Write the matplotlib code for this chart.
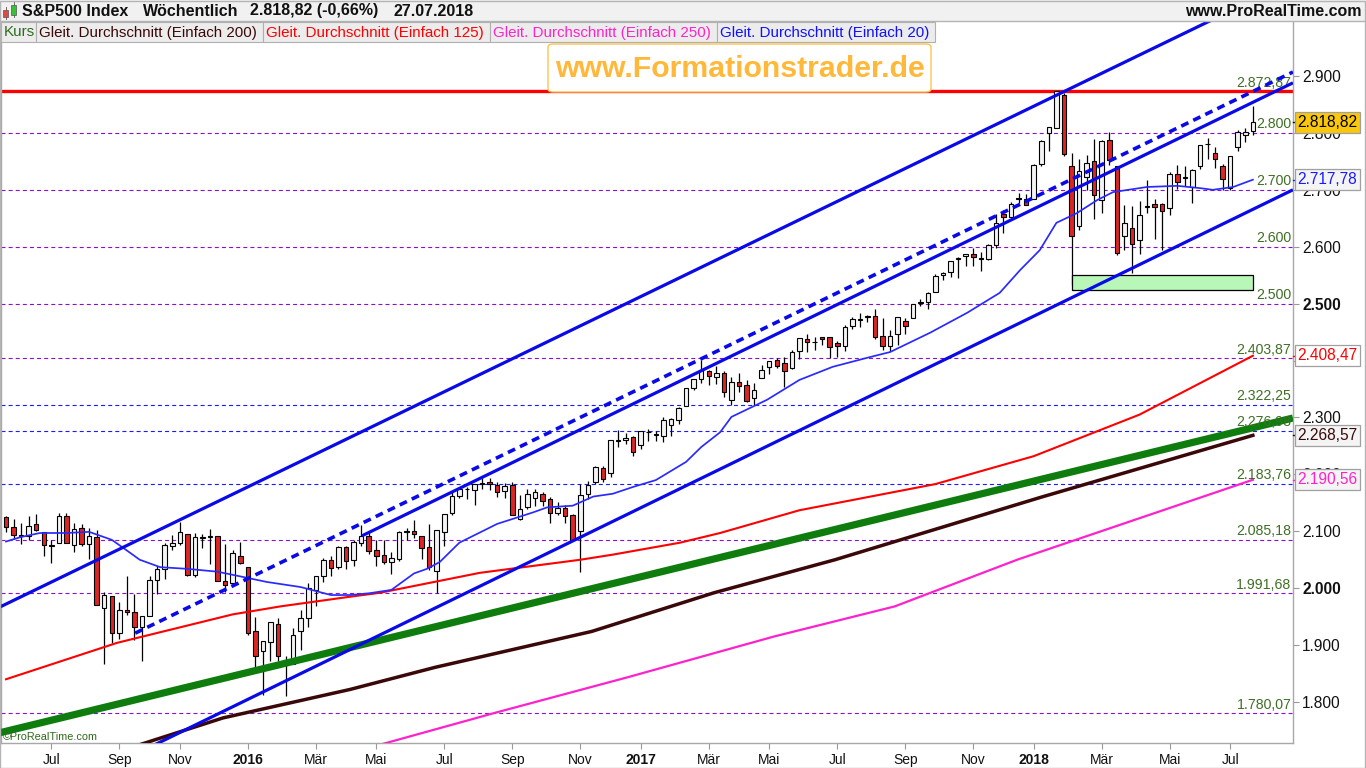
import numpy as np
import pandas as pd
import matplotlib
matplotlib.use("Agg")
import matplotlib.pyplot as plt
from matplotlib.patches import Rectangle, FancyBboxPatch
from matplotlib.lines import Line2D

plt.rcParams['font.family'] = ['Liberation Sans', 'DejaVu Sans']

W, H = 1366, 768

# ---------------- data (weekly candles, week ending dates) ----------------
week_end = pd.date_range('2015-05-29', periods=166, freq='W-FRI')

opens = [2125, 2108, 2092, 2092, 2112, 2098, 2075, 2080, 2127, 2076, 2105, 2078, 2090, 1966, 1986, 1921,
         1961, 1958, 1932, 1951, 2015, 2033, 2075, 2080, 2096, 2023, 2089, 2090, 2091, 2013, 2010, 2057,
         2038, 1924, 1889, 1906, 1937, 1873, 1867, 1924, 1947, 1996, 2022, 2050, 2037, 2073, 2050, 2079,
         2092, 2067, 2058, 2046, 2052, 2100, 2100, 2092, 2073, 2031, 2099, 2133, 2162, 2175, 2173, 2183,
         2187, 2181, 2170, 2181, 2121, 2143, 2158, 2165, 2156, 2133, 2141, 2129, 2100, 2165, 2186, 2211,
         2203, 2260, 2260, 2266,
         2251, 2274, 2269, 2267, 2286, 2295, 2321, 2352, 2367, 2381, 2371, 2379, 2330, 2363, 2357, 2334,
         2370, 2388, 2401, 2395, 2387, 2416, 2437, 2432, 2442, 2441, 2431, 2425, 2460, 2473, 2477, 2478,
         2444, 2426, 2447, 2470, 2474, 2502, 2503, 2521, 2551, 2555, 2578, 2583, 2587, 2579, 2579, 2603,
         2657, 2652, 2686, 2683,
         2684, 2745, 2799, 2809, 2867, 2741, 2637, 2722, 2750, 2682, 2788, 2741, 2619, 2633, 2611, 2670,
         2675, 2675, 2668, 2727, 2722, 2705, 2741, 2780, 2765, 2742, 2704, 2775, 2796, 2804]
highs = [2126, 2121, 2115, 2126, 2130, 2098, 2085, 2133, 2132, 2114, 2113, 2105, 2102, 1993, 1987, 1976,
         2021, 1990, 1952, 2021, 2039, 2080, 2094, 2116, 2096, 2097, 2095, 2104, 2092, 2077, 2067, 2081,
         2038, 1950, 1908, 1940, 1947, 1881, 1930, 1962, 2009, 2022, 2053, 2056, 2075, 2075, 2084, 2111,
         2099, 2084, 2084, 2064, 2100, 2106, 2120, 2092, 2113, 2103, 2131, 2169, 2176, 2178, 2183, 2194,
         2193, 2187, 2184, 2187, 2163, 2175, 2175, 2169, 2161, 2151, 2147, 2131, 2183, 2189, 2214, 2214,
         2260, 2278, 2273, 2267,
         2277, 2280, 2276, 2301, 2299, 2319, 2352, 2368, 2401, 2383, 2390, 2382, 2371, 2378, 2366, 2361,
         2392, 2400, 2404, 2406, 2418, 2440, 2446, 2441, 2442, 2441, 2435, 2463, 2477, 2484, 2480, 2490,
         2474, 2454, 2477, 2475, 2500, 2509, 2520, 2552, 2555, 2575, 2582, 2588, 2598, 2591, 2605, 2657,
         2665, 2679, 2695, 2692,
         2745, 2787, 2810, 2873, 2870, 2764, 2755, 2762, 2790, 2787, 2802, 2742, 2674, 2672, 2680, 2718,
         2683, 2677, 2732, 2743, 2742, 2736, 2779, 2791, 2775, 2746, 2760, 2805, 2809, 2848]
lows = [2099, 2086, 2077, 2084, 2101, 2056, 2044, 2080, 2079, 2063, 2074, 2052, 1971, 1867, 1903, 1911,
        1953, 1909, 1872, 1951, 1990, 2017, 2067, 2076, 2022, 2019, 2070, 2042, 2012, 1993, 2005, 2043,
        1918, 1857, 1812, 1872, 1872, 1810, 1867, 1891, 1931, 1969, 2011, 2022, 2034, 2033, 2039, 2075,
        2060, 2039, 2043, 2025, 2047, 2085, 2089, 2051, 2032, 1992, 2075, 2128, 2159, 2157, 2147, 2175,
        2173, 2160, 2158, 2128, 2119, 2139, 2145, 2144, 2115, 2128, 2115, 2084, 2028, 2156, 2183, 2187,
        2196, 2248, 2253, 2233,
        2245, 2258, 2258, 2257, 2268, 2288, 2321, 2348, 2360, 2357, 2359, 2336, 2322, 2345, 2328, 2322,
        2370, 2377, 2387, 2353, 2386, 2403, 2415, 2419, 2428, 2405, 2407, 2416, 2455, 2459, 2467, 2437,
        2418, 2417, 2428, 2447, 2474, 2496, 2491, 2521, 2542, 2547, 2545, 2567, 2567, 2557, 2576, 2597,
        2625, 2651, 2676, 2673,
        2683, 2742, 2769, 2808, 2759, 2533, 2630, 2700, 2648, 2660, 2743, 2585, 2594, 2553, 2587, 2660,
        2613, 2594, 2655, 2702, 2707, 2676, 2736, 2755, 2738, 2699, 2699, 2768, 2784, 2796]
closes = [2107.39, 2092.83, 2094.11, 2109.99, 2101.49, 2076.78, 2076.62, 2126.64, 2079.65, 2103.84,
          2077.57, 2091.54, 1970.89, 1988.87, 1921.22, 1961.05, 1958.08, 1931.34, 1951.36, 2014.89,
          2033.11, 2075.15, 2079.36, 2099.20, 2023.04, 2089.17, 2090.11, 2091.69, 2012.37, 2005.55,
          2060.99, 2043.94,
          1922.03, 1880.33, 1906.90, 1940.24, 1880.05, 1864.78, 1917.78, 1948.05, 1999.99, 2022.19,
          2049.58, 2035.94, 2072.78, 2047.60, 2080.73, 2091.58, 2065.30, 2057.14, 2046.61, 2052.32,
          2099.06, 2099.13, 2096.07, 2071.22, 2037.41, 2102.95, 2129.90, 2161.74, 2175.03, 2173.60,
          2182.87, 2184.05, 2183.87, 2169.04, 2179.98, 2127.81, 2139.16, 2164.69, 2168.27, 2153.74,
          2132.98, 2141.16, 2126.41, 2085.18, 2164.45, 2181.90, 2213.35, 2191.95, 2259.53, 2258.07,
          2263.79, 2238.83,
          2276.98, 2274.64, 2271.31, 2294.69, 2297.42, 2316.10, 2351.16, 2367.34, 2383.12, 2372.60,
          2378.25, 2343.98, 2362.72, 2355.54, 2328.95, 2348.69, 2384.20, 2399.29, 2390.90, 2381.73,
          2415.82, 2439.07, 2431.77, 2433.15, 2438.30, 2423.41, 2425.18, 2459.27, 2472.54, 2472.10,
          2476.83, 2441.32, 2425.55, 2443.05, 2476.55, 2461.43, 2500.23, 2502.22, 2519.36, 2549.33,
          2553.17, 2575.21, 2581.07, 2587.84, 2582.30, 2578.85, 2602.42, 2642.22, 2651.50, 2675.81,
          2683.34, 2673.61,
          2743.15, 2786.24, 2810.30, 2872.87, 2762.13, 2619.55, 2732.22, 2747.30, 2691.25, 2786.57,
          2752.01, 2588.26, 2640.87, 2604.47, 2656.30, 2670.14, 2669.91, 2663.42, 2727.72, 2712.97,
          2721.33, 2734.62, 2779.03, 2779.66, 2754.88, 2718.37, 2759.82, 2801.31, 2801.83, 2818.82]

# moving averages: (week index, value)
sma20_w = [0, 2, 4.5, 8, 11, 14, 15.5, 17.7, 20.4, 24, 28, 32, 34.5, 39, 43, 45.5, 48, 51, 54, 55.7,
           57.4, 60, 65, 69.7, 71.6, 75, 77.7, 80.3, 83, 86, 90, 92, 94.5, 96, 100.7, 105, 109.4, 114,
           117, 122.3, 127.2, 131.5, 134.2, 136.8, 139, 141.7, 144.4, 146.5, 151, 155, 158, 159.7,
           162.4, 165]
sma20_v = [2082, 2090, 2097, 2097, 2099, 2085, 2071, 2050, 2037, 2034, 2029, 2018, 2011, 2002, 1988,
           1988, 1991, 1997, 2026, 2034, 2046, 2080, 2113, 2133, 2142, 2145, 2161, 2166, 2178, 2190,
           2222, 2248, 2274, 2301, 2331, 2366, 2389, 2405, 2415, 2449, 2484, 2519, 2559, 2594, 2642,
           2659, 2682, 2696, 2705, 2707, 2703, 2700, 2705, 2717.78]
sma125_w = [0, 14.7, 30, 36.3, 45.5, 49.5, 62.7, 76, 80.3, 89.2, 94.5, 105, 123, 136, 150, 165]
sma125_v = [1840, 1904, 1954, 1968, 1985, 1992, 2027, 2050, 2059, 2080, 2097, 2137, 2183, 2232, 2305,
            2408.47]
sma200_w = [0, 18.4, 28.7, 45.5, 56.8, 77.5, 93.7, 109.7, 137, 165]
sma200_v = [1650, 1728, 1772, 1822, 1861, 1924, 1992, 2050, 2160, 2268.57]
sma250_w = [30, 50.3, 64.7, 82.4, 101.6, 117.6, 133.8, 165]
sma250_v = [1655, 1728, 1781, 1844, 1915, 1968, 2050, 2190.56]

# drawn trend lines: (week start, price start, week end, price end)
channel_upper = (-0.8, 1967, 171, 3072)
channel_dashed = (17.1, 1921, 170.3, 2907)
channel_mid = (47.1, 2092, 170.3, 2888)
channel_lower = (18.0, 1714, 170.3, 2700)
green_trend = (-0.8, 1746, 170.3, 2299)
top_line = 2872.87
zone = (141, 165, 2524, 2550)  # weeks, price low, price high

purple_levels = [2800, 2700, 2600, 2500, 2403.87, 2085.18, 1991.68, 1780.07]
blue_levels = [2322.25, 2276.98, 2183.76]
y_ticks = [1800, 1900, 2000, 2100, 2200, 2300, 2400, 2500, 2600, 2700, 2800, 2900]
hidden_tick_labels = [2400]   # fully covered by the value box in the reference
month_names = {1: None, 3: 'Mär', 5: 'Mai', 7: 'Jul', 9: 'Sep', 11: 'Nov'}


def de(v, dec=2):
    s = f"{v:,.{dec}f}"
    return s.replace(',', 'X').replace('.', ',').replace('X', '.')


# ---------------- figure ----------------
fig = plt.figure(figsize=(W / 100, H / 100), dpi=100)
fig.patch.set_facecolor('white')


def fx(px):
    return px / W


def fy(py):
    return 1 - py / H


ax = fig.add_axes([fx(1), fy(743), (1293 - 1) / W, (743 - 20) / H])
ax.set_facecolor('white')
ax.set_xlim(-0.66, 170.31)
ax.set_ylim(1728.0, 2998.4)

o = np.array(opens, float)
h = np.array(highs, float)
l = np.array(lows, float)
c = np.array(closes, float)
x = np.arange(len(c))

# horizontal levels
for lv in purple_levels:
    ax.axhline(lv, color='#8a10d0', lw=0.8, dashes=(3.6, 2.8), zorder=1)
for lv in blue_levels:
    ax.axhline(lv, color='#1a1aff', lw=0.8, dashes=(3.6, 2.8), zorder=1)
ax.axhline(top_line, color='#ff0000', lw=2.4, zorder=2)

lab_col = '#3f6f25'
for lv in purple_levels + blue_levels + [top_line]:
    txt = de(lv, 0) if float(lv).is_integer() else de(lv)
    ax.text(170.1, lv + 2.5, txt, ha='right', va='bottom', fontsize=10.2, color=lab_col, zorder=6)

# candles
ax.vlines(x, l, h, color='black', lw=0.9, zorder=3)
up = c >= o
lo = np.minimum(o, c)
bh = np.maximum(np.abs(c - o), 1.2)
ax.bar(x[up], bh[up], bottom=lo[up], width=0.6, color='#f4f4f4', edgecolor='black', linewidth=0.8, zorder=4)
ax.bar(x[~up], bh[~up], bottom=lo[~up], width=0.6, color='#e02424', edgecolor='black', linewidth=0.8, zorder=4)

# support zone
zx0, zx1, zy0, zy1 = zone
ax.add_patch(Rectangle((zx0, zy0), zx1 - zx0, zy1 - zy0, fc='#b8f7b8', ec='black', lw=0.9, zorder=5))

# moving averages
ax.plot(sma250_w, sma250_v, color='#ff22cc', lw=1.6, zorder=5)
ax.plot(sma200_w, sma200_v, color='#3a0808', lw=2.5, zorder=5)
ax.plot(sma125_w, sma125_v, color='#ff0000', lw=1.5, zorder=5)
ax.plot(sma20_w, sma20_v, color='#2a2aff', lw=1.25, zorder=5)

# trend lines
def seg(t, **kw):
    ax.plot([t[0], t[2]], [t[1], t[3]], solid_capstyle='butt', **kw)

seg(green_trend, color='#0e7d0e', lw=5.2, zorder=5)
seg(channel_upper, color='#0a0ae8', lw=2.3, zorder=6)
seg(channel_mid, color='#0a0ae8', lw=2.3, zorder=6)
seg(channel_lower, color='#0a0ae8', lw=2.3, zorder=6)
seg(channel_dashed, color='#0a0ae8', lw=2.6, dashes=(2.2, 1.5), zorder=6)

# axes styling
ax.spines['top'].set_visible(False)
for s in ['left', 'right', 'bottom']:
    ax.spines[s].set_color('#a8a8a8')
    ax.spines[s].set_linewidth(1.0)

ax.yaxis.tick_right()
ax.set_yticks(y_ticks)
ax.set_yticklabels(['' if v in hidden_tick_labels else de(v, 0) for v in y_ticks])
ax.tick_params(axis='y', length=4, color='#999999', pad=2.5, labelsize=11.2, labelcolor='#111111')
for t, v in zip(ax.get_yticklabels(), y_ticks):
    if v in (2000, 2500):
        t.set_fontweight('bold')

mondays = week_end - pd.Timedelta(days=4)
tick_pos, tick_lab, tick_bold = [], [], []
seen = set()
for i, d in enumerate(mondays):
    if d.month in month_names and (d.year, d.month) not in seen:
        seen.add((d.year, d.month))
        if i == 0 and d.day > 7:
            continue
        tick_pos.append(i)
        if d.month == 1:
            tick_lab.append(str(d.year))
            tick_bold.append(True)
        else:
            tick_lab.append(month_names[d.month])
            tick_bold.append(False)
ax.set_xticks(tick_pos)
ax.set_xticklabels(tick_lab)
ax.tick_params(axis='x', length=4, color='#999999', pad=3, labelsize=10, labelcolor='#111111')
for t, b in zip(ax.get_xticklabels(), tick_bold):
    if b:
        t.set_fontweight('bold')

# value boxes on the right axis
ytr = ax.get_yaxis_transform()
boxes = [(closes[-1], '#000000', '#f9c70c'),
         (sma20_v[-1], '#1a1aff', '#f4f4f4'),
         (sma125_v[-1], '#ff0000', '#ffffff'),
         (sma200_v[-1], '#3a0808', '#f4f4f4'),
         (sma250_v[-1], '#ff22cc', '#f4f4f4')]
for val, tc, bg in boxes:
    ax.text(1.0035, val, de(val), transform=ytr, ha='left', va='center', fontsize=11.2, color=tc,
            clip_on=False, zorder=10,
            bbox=dict(boxstyle='square,pad=0.18', fc=bg, ec='#a0a0a0', lw=0.9))
    ax.plot([1.0, 1.0031], [val, val], transform=ytr, color=tc, lw=1.0, clip_on=False, zorder=9)

# ---------------- header ----------------
fig.patches.append(Rectangle((0, fy(21)), 1, 21 / H, transform=fig.transFigure, fc='#f1f1f1',
                             ec='none', zorder=0))
fig.add_artist(Line2D([0, 1], [fy(21), fy(21)], transform=fig.transFigure, color='#b4b4b4', lw=1))
# icon
fig.patches.append(Rectangle((fx(3), fy(17)), 5 / W, 7 / H, transform=fig.transFigure, fc='#e04848',
                             ec='#555555', lw=0.5, zorder=3))
fig.add_artist(Line2D([fx(5.5), fx(5.5)], [fy(19), fy(7)], transform=fig.transFigure, color='#555555', lw=0.6))
fig.patches.append(Rectangle((fx(11), fy(15)), 5 / W, 10 / H, transform=fig.transFigure, fc='#38c038',
                             ec='#555555', lw=0.5, zorder=3))
fig.add_artist(Line2D([fx(13.5), fx(13.5)], [fy(17), fy(2)], transform=fig.transFigure, color='#555555', lw=0.6))

for px, s in [(22, 'S&P500 Index'), (143, 'Wöchentlich'), (250, '2.818,82 (-0,66%)'), (393, '27.07.2018')]:
    fig.text(fx(px), fy(11), s, fontsize=11.5, fontweight='bold', va='center', ha='left', color='#111111')
fig.text(fx(1362), fy(11), 'www.ProRealTime.com', fontsize=11.5, fontweight='bold', va='center', ha='right',
         color='#111111')

# legend row
legend_items = [(1, 36, 'Kurs', '#2e6b1e'),
                (36, 263, 'Gleit. Durchschnitt (Einfach 200)', '#3a0808'),
                (263, 490, 'Gleit. Durchschnitt (Einfach 125)', '#ff0000'),
                (490, 717, 'Gleit. Durchschnitt (Einfach 250)', '#ff22cc'),
                (717, 935, 'Gleit. Durchschnitt (Einfach 20)', '#1010ff')]
for x0, x1, s, col in legend_items:
    fig.patches.append(Rectangle((fx(x0), fy(42)), (x1 - x0) / W, 20 / H, transform=fig.transFigure,
                                 fc='#ececec', ec='#b0b0b0', lw=0.8, zorder=3))
    fig.text(fx(x0 + 3), fy(32.5), s, fontsize=10.9, color=col, va='center', ha='left', zorder=4)

# watermark
fig.patches.append(FancyBboxPatch((fx(548), fy(92)), (931 - 548) / W, (92 - 44) / H,
                                  boxstyle='round,pad=0,rounding_size=0.004', transform=fig.transFigure,
                                  fc='white', ec='#ffc24d', lw=1.0, zorder=3))
fig.text(fx(740), fy(69), 'www.Formationstrader.de', fontsize=21.8, fontweight='bold', color='#ffb83a',
         ha='center', va='center', zorder=4)

fig.text(fx(3), fy(737), '©ProRealTime.com', fontsize=7.8, color='#2d6a1a', ha='left', va='center', zorder=4)

# outer border
fig.patches.append(Rectangle((0, 0), 1 - 1 / W, 1 - 1 / H, transform=fig.transFigure, fc='none',
                             ec='#b4b4b4', lw=1, zorder=5))

fig.savefig('out.png', dpi=100, facecolor='white')
